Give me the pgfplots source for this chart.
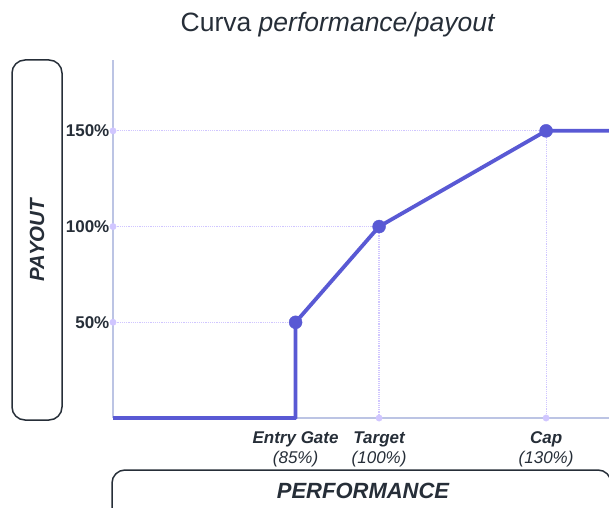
\documentclass[border=0pt]{standalone}
\usepackage{pgfplots}
\pgfplotsset{compat=1.18}
\usepackage{fontspec}
\setmainfont{Liberation Sans}

\definecolor{curve}{RGB}{89,89,212}
\definecolor{axisc}{RGB}{188,196,228}
\definecolor{lav}{RGB}{208,198,255}
\definecolor{ink}{RGB}{38,46,56}

\begin{document}
\begin{tikzpicture}[x=1pt,y=1pt]
\begin{axis}[
    at={(113pt,89pt)}, anchor=south west,
    scale only axis, width=496pt, height=358pt,
    xmin=52.2, xmax=141.3,
    ymin=0, ymax=187,
    clip=false,
    axis x line=bottom, axis y line=left,
    axis line style={-, draw=axisc, line width=2pt},
    tick style={draw=none},
    ytick={50,100,150},
    yticklabels={50\%,100\%,150\%},
    yticklabel style={font=\bfseries\fontsize{17}{17}\selectfont, text=ink, xshift=2pt},
    xtick={85,100,130},
    xticklabels={
        {\bfseries Entry Gate\\(85\%)},
        {\bfseries Target\\(100\%)},
        {\bfseries Cap\\(130\%)}},
    xticklabel style={align=center, font=\itshape\fontsize{17}{20}\selectfont,
        text=ink, yshift=-8pt},
]
% drop lines
\addplot[lav, densely dotted, line width=1.2pt] coordinates {(52.2,50) (85,50)};
\addplot[lav, densely dotted, line width=1.2pt] coordinates {(52.2,100) (100,100) (100,0)};
\addplot[lav, densely dotted, line width=1.2pt] coordinates {(52.2,150) (130,150) (130,0)};
% tick dots
\addplot[only marks, mark=*, mark size=3.2pt, color=lav] coordinates {
    (52.2,50) (52.2,100) (52.2,150) (100,0) (130,0)};
% payout curve
\addplot[curve, line width=3.8pt, line join=round, mark=none] coordinates {
    (52.2,0) (85,0) (85,50) (100,100) (130,150) (141.3,150)};
\addplot[only marks, mark=*, mark size=6.5pt, color=curve] coordinates {
    (85,50) (100,100) (130,150)};
\end{axis}
% title
\node[text=ink, font=\fontsize{26.5}{26.5}\selectfont] at (338,482) {Curva \textit{performance/payout}};
% y label box
\draw[ink, line width=1.5pt, rounded corners=13pt] (12,87) rectangle (62,447);
\node[text=ink, rotate=90, font=\bfseries\itshape\fontsize{20.5}{20.5}\selectfont] at (37,267) {PAYOUT};
% x label box
\draw[ink, line width=1.5pt, rounded corners=13pt] (112,-20) rectangle (611,37);
\node[text=ink, font=\bfseries\itshape\fontsize{22}{22}\selectfont] at (363,16) {PERFORMANCE};
\pgfresetboundingbox
\path[use as bounding box] (0,0) rectangle (609,507);
\end{tikzpicture}
\end{document}
